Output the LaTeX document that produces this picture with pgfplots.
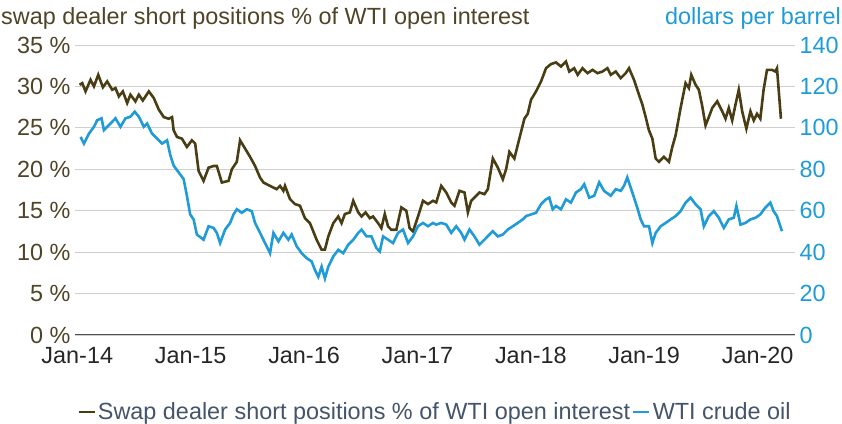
\documentclass[border=0pt]{standalone}
\usepackage{fontspec}
\setmainfont{Liberation Sans}
\usepackage{pgfplots}
\usepackage{pgfplotstable}
\pgfplotsset{compat=1.18}

\definecolor{swapc}{HTML}{493D14}
\definecolor{swaptext}{HTML}{4F4426}
\definecolor{oilc}{HTML}{1F9BD7}
\definecolor{gridc}{HTML}{CFCFCF}
\definecolor{axisc}{HTML}{505050}
\definecolor{legendc}{HTML}{44546A}

% swap dealer short positions, % of WTI open interest
\pgfplotstableread{
x y
2014.020 30.2
2014.044 30.4
2014.073 29.4
2014.117 30.8
2014.147 30.0
2014.185 31.4
2014.226 29.9
2014.264 30.6
2014.308 29.6
2014.337 29.8
2014.367 28.8
2014.402 29.4
2014.440 28.0
2014.469 29.0
2014.513 28.2
2014.543 29.0
2014.578 28.3
2014.631 29.4
2014.675 28.6
2014.719 27.2
2014.763 26.3
2014.806 26.1
2014.836 26.3
2014.850 24.7
2014.880 23.9
2014.923 23.7
2014.967 22.7
2015.011 23.5
2015.040 23.1
2015.070 19.8
2015.114 18.6
2015.158 20.2
2015.202 20.4
2015.231 20.4
2015.275 18.4
2015.334 18.6
2015.363 20.0
2015.407 20.9
2015.436 23.5
2015.480 22.5
2015.524 21.5
2015.568 20.4
2015.612 19.0
2015.642 18.4
2015.700 18.0
2015.759 17.6
2015.788 18.0
2015.818 17.4
2015.832 18.0
2015.876 16.4
2015.920 15.8
2015.964 15.6
2016.008 14.1
2016.052 13.5
2016.111 11.5
2016.155 10.3
2016.184 10.3
2016.214 11.9
2016.258 13.5
2016.302 14.3
2016.331 13.5
2016.360 14.6
2016.404 14.8
2016.434 16.2
2016.478 14.8
2016.507 14.3
2016.542 14.8
2016.580 14.1
2016.609 14.3
2016.653 13.5
2016.682 12.9
2016.712 14.6
2016.741 13.1
2016.770 12.7
2016.814 12.7
2016.858 15.4
2016.902 15.0
2016.931 12.9
2016.961 12.5
2017.005 14.3
2017.049 16.2
2017.093 15.8
2017.137 16.2
2017.166 16.0
2017.210 18.0
2017.254 17.2
2017.298 16.0
2017.327 15.6
2017.371 17.4
2017.415 17.2
2017.445 14.8
2017.474 16.2
2017.518 16.8
2017.547 17.2
2017.591 17.0
2017.621 17.6
2017.665 21.3
2017.709 20.2
2017.753 18.8
2017.782 20.0
2017.811 22.1
2017.855 21.3
2017.899 23.7
2017.943 26.1
2017.973 26.7
2018.002 28.4
2018.046 29.4
2018.090 30.6
2018.134 32.2
2018.178 32.7
2018.222 32.9
2018.266 32.4
2018.310 33.0
2018.339 31.8
2018.383 32.2
2018.413 31.4
2018.456 32.2
2018.500 31.6
2018.544 32.0
2018.588 31.6
2018.632 31.8
2018.676 32.2
2018.705 31.4
2018.749 31.8
2018.793 31.0
2018.837 31.6
2018.866 32.2
2018.910 30.8
2018.954 29.0
2018.984 27.8
2019.013 26.3
2019.042 24.7
2019.072 23.7
2019.101 21.3
2019.130 20.9
2019.174 21.5
2019.218 20.9
2019.248 22.7
2019.277 24.1
2019.321 27.4
2019.365 30.4
2019.394 29.8
2019.415 31.4
2019.453 30.2
2019.482 29.6
2019.512 27.6
2019.541 25.3
2019.570 26.3
2019.600 27.4
2019.644 28.2
2019.688 27.0
2019.717 26.1
2019.746 27.4
2019.776 25.9
2019.805 27.8
2019.834 29.6
2019.864 27.0
2019.901 24.9
2019.937 27.0
2019.966 25.9
2019.995 26.7
2020.024 26.1
2020.053 29.6
2020.083 32.0
2020.127 32.0
2020.156 31.8
2020.171 32.2
2020.206 26.1
}\swapdata

% WTI crude oil, dollars per barrel
\pgfplotstableread{
x y
2014.029 95.6
2014.059 92.4
2014.103 97.2
2014.147 100.5
2014.176 103.7
2014.214 104.6
2014.235 98.9
2014.279 101.3
2014.337 104.6
2014.381 100.5
2014.425 104.6
2014.469 105.4
2014.507 107.8
2014.543 105.4
2014.587 100.5
2014.616 102.1
2014.660 97.2
2014.704 94.8
2014.748 92.4
2014.792 94.0
2014.821 86.7
2014.850 81.8
2014.894 78.5
2014.938 75.3
2014.967 67.2
2014.996 58.2
2015.026 55.8
2015.055 48.5
2015.114 46.0
2015.158 52.5
2015.202 51.7
2015.231 49.3
2015.260 44.4
2015.304 50.9
2015.348 54.1
2015.378 58.2
2015.407 60.7
2015.451 59.0
2015.495 60.7
2015.539 59.8
2015.568 54.1
2015.612 49.3
2015.656 44.4
2015.700 39.5
2015.730 49.3
2015.774 45.2
2015.818 49.3
2015.862 46.0
2015.891 48.5
2015.935 42.8
2015.979 39.5
2016.023 37.1
2016.067 35.5
2016.096 31.4
2016.126 28.1
2016.155 33.0
2016.184 27.3
2016.214 33.0
2016.258 37.9
2016.302 41.1
2016.346 39.5
2016.390 43.6
2016.434 46.0
2016.478 49.3
2016.507 50.9
2016.551 47.6
2016.594 47.6
2016.638 42.0
2016.668 40.3
2016.697 47.6
2016.741 46.0
2016.785 44.4
2016.829 49.3
2016.873 50.9
2016.917 44.4
2016.961 47.6
2017.005 52.5
2017.049 54.1
2017.093 52.5
2017.137 54.1
2017.166 53.3
2017.210 54.1
2017.254 53.3
2017.298 49.3
2017.342 52.5
2017.386 49.3
2017.415 46.0
2017.459 50.9
2017.503 47.6
2017.547 43.6
2017.591 46.0
2017.635 48.5
2017.665 50.1
2017.709 47.6
2017.753 48.5
2017.797 50.9
2017.841 52.5
2017.885 54.1
2017.929 55.8
2017.958 57.4
2018.002 58.2
2018.046 59.0
2018.090 63.1
2018.134 65.5
2018.163 66.3
2018.193 60.7
2018.222 62.3
2018.266 60.7
2018.310 65.5
2018.354 63.9
2018.398 68.8
2018.442 70.4
2018.471 72.8
2018.515 66.3
2018.559 67.2
2018.603 73.7
2018.646 69.6
2018.705 67.2
2018.749 70.4
2018.793 69.6
2018.822 72.0
2018.851 76.1
2018.895 68.8
2018.939 61.5
2018.969 55.8
2018.998 52.5
2019.042 52.5
2019.072 44.4
2019.101 49.3
2019.145 52.5
2019.189 54.1
2019.233 55.8
2019.277 57.4
2019.321 59.8
2019.365 63.9
2019.409 66.3
2019.453 63.1
2019.497 60.7
2019.526 52.5
2019.570 57.4
2019.614 59.8
2019.658 56.6
2019.702 51.7
2019.746 55.8
2019.790 56.6
2019.813 62.3
2019.849 53.3
2019.893 54.1
2019.937 55.8
2019.981 56.6
2020.024 58.2
2020.068 61.5
2020.112 63.9
2020.141 59.8
2020.171 57.4
2020.215 50.1
}\oildata

\pgfplotsset{
  base/.style={
    scale only axis,
    width=720bp, height=290bp,
    at={(75bp,89bp)}, anchor=south west,
    xmin=2013.98, xmax=2020.33,
    axis line style={draw=none},
    major tick length=0pt,
    tick label style={font=\fontsize{23.5}{27}\selectfont},
    /pgf/number format/assume math mode=true,
  }
}

\begin{document}
\begin{tikzpicture}
\path[use as bounding box] (0bp,0bp) rectangle (842bp,424bp);

\begin{axis}[base,
  ymin=0, ymax=35,
  ytick={0,5,...,35},
  yticklabels={0 \%,5 \%,10 \%,15 \%,20 \%,25 \%,30 \%,35 \%},
  y tick label style={text=swaptext, xshift=-1bp},
  xtick={2014,2015,2016,2017,2018,2019,2020},
  xticklabels={Jan-14,Jan-15,Jan-16,Jan-17,Jan-18,Jan-19,Jan-20},
  x tick label style={text=black!85, yshift=-9bp},
  ymajorgrids,
  grid style={draw=gridc, line width=1bp},
]
\draw[axisc, line width=1.3bp] (rel axis cs:0,0) -- (rel axis cs:1,0);
\addplot[swapc, line width=2.6bp, no markers] table {\swapdata};
\end{axis}

\begin{axis}[base,
  ymin=0, ymax=140,
  ytick={0,20,...,140},
  yticklabel pos=right,
  y tick label style={text=oilc, xshift=1bp},
  hide x axis,
  legend style={at={(0.5,-0.265)}, anchor=center, draw=none, fill=none,
    legend columns=2, font=\fontsize{23.5}{27}\selectfont, text=legendc,
    /tikz/every even column/.append style={column sep=0pt}},
  legend image code/.code={\draw[#1] (0bp,0bp) -- (16bp,0bp);},
]
\addlegendimage{swapc, line width=2.6bp}
\addlegendentry{Swap dealer short positions \% of WTI open interest}
\addplot[oilc, line width=2.6bp, no markers] table {\oildata};
\addlegendentry{WTI crude oil}
\end{axis}

\node[anchor=west, text=swaptext, font=\fontsize{23.5}{27}\selectfont, inner sep=1bp] at (0bp,406bp) {swap dealer short positions \% of WTI open interest};
\node[anchor=east, text=oilc, font=\fontsize{23.5}{27}\selectfont, inner sep=1bp] at (842bp,406bp) {dollars per barrel};
\end{tikzpicture}
\end{document}
